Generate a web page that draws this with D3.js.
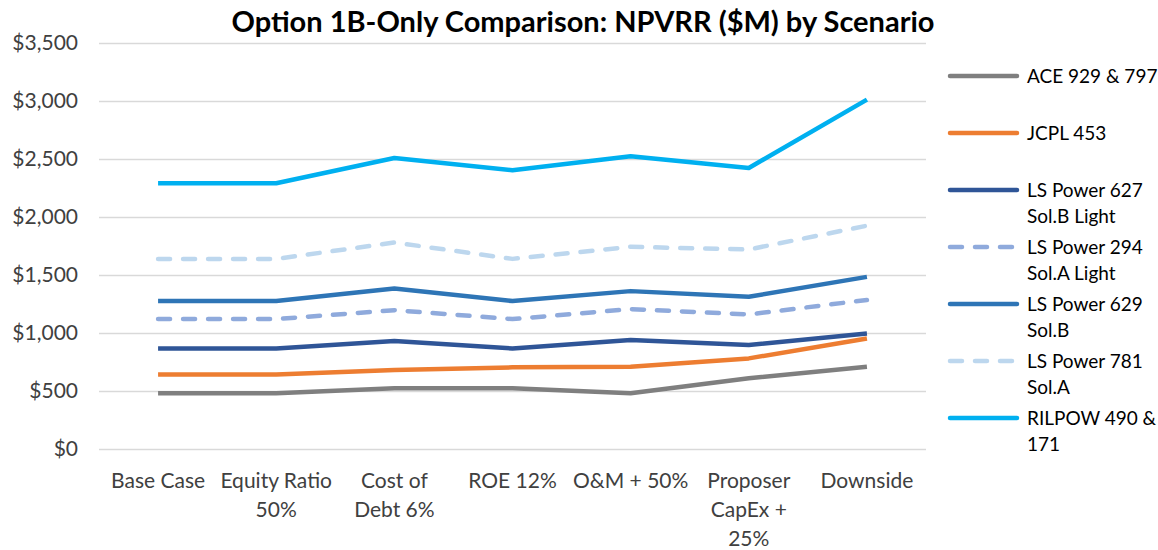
<!DOCTYPE html>
<html>
<head>
<meta charset="utf-8">
<script src="https://cdn.jsdelivr.net/npm/d3@7"></script>
<style>
  body { margin: 0; background: #fff; }
  svg text { font-family: Lato, "Open Sans", sans-serif; }
</style>
</head>
<body>
<div id="chart"></div>
<script>
// scenarios along the x axis (line breaks as in the original)
const scenarios = ["Base Case", "Equity Ratio\n50%", "Cost of\nDebt 6%", "ROE 12%", "O&M + 50%", "Proposer\nCapEx +\n25%", "Downside"];
const yTicks = [0, 500, 1000, 1500, 2000, 2500, 3000, 3500];

const ace = [480, 480, 523, 523, 480, 609, 709];
const jcpl = [643, 643, 680, 704, 709, 781, 953];
const ls627 = [867, 867, 930, 867, 939, 896, 996];
const ls294 = [1120, 1120, 1197, 1120, 1206, 1160, 1285];
const ls629 = [1275, 1275, 1384, 1275, 1361, 1312, 1484];
const ls781 = [1639, 1639, 1780, 1639, 1743, 1720, 1925];
const rilpow = [2291, 2291, 2509, 2403, 2524, 2423, 3012];

const seriesNames = ["ACE 929 & 797", "JCPL 453", "LS Power 627\nSol.B Light", "LS Power 294\nSol.A Light", "LS Power 629\nSol.B", "LS Power 781\nSol.A", "RILPOW 490 &\n171"];

const series = [
    {name: seriesNames[0], values: ace, color: "#7f7f7f", dashed: false},
    {name: seriesNames[1], values: jcpl, color: "#ed7d31", dashed: false},
    {name: seriesNames[2], values: ls627, color: "#2f5597", dashed: false},
    {name: seriesNames[3], values: ls294, color: "#8faadc", dashed: true},
    {name: seriesNames[4], values: ls629, color: "#2e75b6", dashed: false},
    {name: seriesNames[5], values: ls781, color: "#bdd7ee", dashed: true},
    {name: seriesNames[6], values: rilpow, color: "#00b0f0", dashed: false}
];

const size = {width: 1158, height: 550};
const margin = {top: 43, right: 232, bottom: 101, left: 99};
const width = size.width - margin.left - margin.right;
const height = size.height - margin.top - margin.bottom;

const svg = d3.select("#chart").append("svg")
    .attr("width", size.width)
    .attr("height", size.height);

svg.append("text")
    .attr("x", 583)
    .attr("y", 32)
    .attr("text-anchor", "middle")
    .attr("font-size", 29)
    .attr("font-weight", "bold")
    .attr("fill", "#000")
    .text("Option 1B-Only Comparison:  NPVRR ($M) by Scenario");

const g = svg.append("g")
    .attr("transform", "translate(" + margin.left + "," + margin.top + ")");

const xScale = d3.scaleBand().domain(scenarios).range([0, width]);
const yScale = d3.scaleLinear().domain([0, 3500]).range([height, 0]);

// gridlines + y labels
const yAxis = g.append("g")
    .call(d3.axisLeft(yScale).tickValues(yTicks).tickSize(-width)
        .tickFormat(d => "$" + d3.format(",")(d)));
yAxis.select(".domain").remove();
yAxis.selectAll("line").attr("stroke", "#d9d9d9").attr("stroke-width", 1.5);
yAxis.selectAll("text")
    .attr("x", -21)
    .attr("font-size", 21)
    .attr("fill", "#404040");

// x labels
const xAxis = g.append("g")
    .attr("transform", "translate(0," + height + ")")
    .call(d3.axisBottom(xScale).tickSize(0));
xAxis.select(".domain").remove();
xAxis.selectAll("text").each(function(d){
    const t = d3.select(this);
    t.text(null).attr("y", 0).attr("dy", null)
        .attr("font-size", 21).attr("fill", "#404040");
    d.split("\n").forEach((line, i) => {
        t.append("tspan").attr("x", 0).attr("y", 39 + i * 29).text(line);
    });
});

const line = d3.line()
    .x((d, i) => xScale(scenarios[i]) + xScale.bandwidth() / 2)
    .y(d => yScale(d));

g.selectAll(".seriesLine")
    .data(series)
    .join("path")
    .attr("class", "seriesLine")
    .attr("fill", "none")
    .attr("stroke", d => d.color)
    .attr("stroke-width", 4.5)
    .attr("stroke-linejoin", "round")
    .attr("stroke-linecap", d => d.dashed ? "round" : "butt")
    .attr("stroke-dasharray", d => d.dashed ? "12,13" : null)
    .attr("d", d => line(d.values));

// legend
const legend = svg.append("g")
    .attr("transform", "translate(948,76)");

const legendItem = legend.selectAll(".legendItem")
    .data(series)
    .join("g")
    .attr("class", "legendItem")
    .attr("transform", (d, i) => "translate(0," + (i * 57) + ")");

legendItem.append("line")
    .attr("x1", 2).attr("x2", 69)
    .attr("y1", 0).attr("y2", 0)
    .attr("stroke", d => d.color)
    .attr("stroke-width", 4.5)
    .attr("stroke-linecap", "round")
    .attr("stroke-dasharray", d => d.dashed ? "12,13" : null);

legendItem.append("text")
    .attr("x", 79)
    .attr("font-size", 19)
    .attr("fill", "#000")
    .each(function(d){
        const t = d3.select(this);
        d.name.split("\n").forEach((l, i) => {
            t.append("tspan").attr("x", 79).attr("y", 7 + i * 26).text(l);
        });
    });
</script>
</body>
</html>
